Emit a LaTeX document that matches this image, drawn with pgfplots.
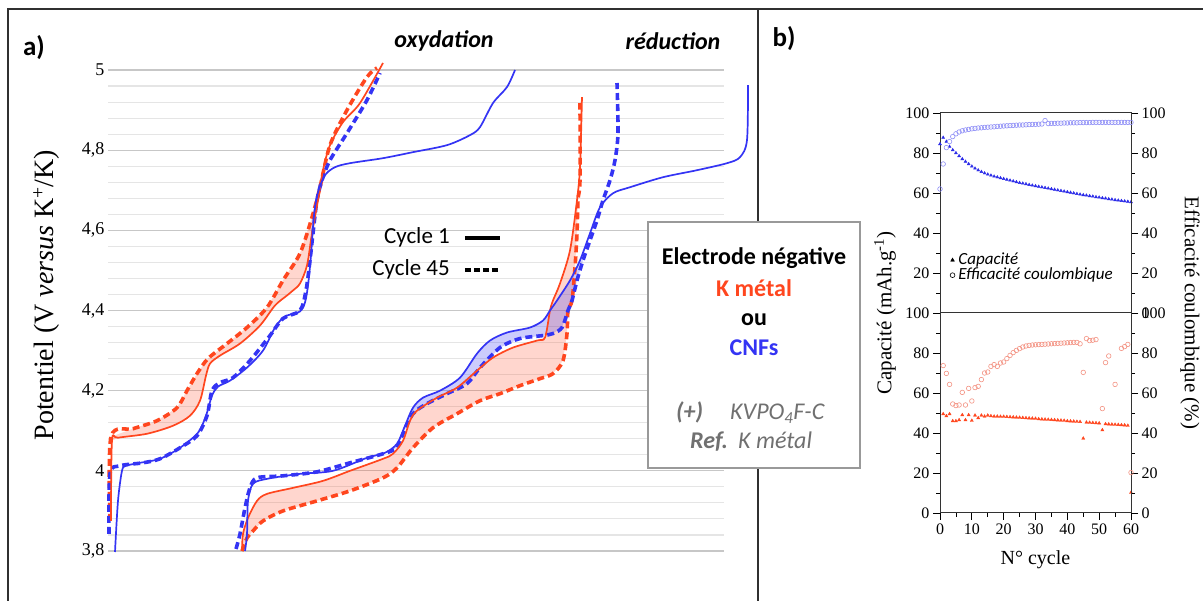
\documentclass[border=0pt]{standalone}
\usepackage{fontspec}
\setmainfont{Carlito}
\newfontfamily\tnr{Liberation Serif}
\usepackage{pgfplots}
\pgfplotsset{compat=1.18}

\definecolor{kred}{HTML}{FF461E}
\definecolor{cblue}{HTML}{3434F4}
\definecolor{triblue}{HTML}{2B2BE8}
\definecolor{circblue}{HTML}{8E8EF6}
\definecolor{circred}{HTML}{F39282}
\definecolor{boxgray}{HTML}{707070}
\definecolor{framegray}{HTML}{303030}

\tikzset{
  sol/.style={line width=1.7pt, smooth, tension=0.5},
  das/.style={line width=3.6pt, dash pattern=on 7pt off 4pt, smooth, tension=0.5},
}
\pgfplotsset{
  pb/.style={
    scale only axis, width=191pt, height=200pt,
    xmin=0, xmax=60, ymin=0, ymax=100,
    tick align=outside, major tick length=7pt, minor tick length=4pt,
    tick style={black, line width=0.8pt},
    axis line style={black!80, line width=1pt},
    tick label style={font=\tnr\fontsize{16}{16}\selectfont},
    /pgf/number format/assume math mode=true,
    ytick={0,20,...,100}, minor ytick={10,30,50,70,90},
    xtick={0,10,...,60}, minor xtick={5,15,...,55},
  },
}

\begin{document}
\begin{tikzpicture}
\useasboundingbox (0pt,0pt) rectangle (1203pt,601pt);
% cadre
\draw[framegray, line width=1.5pt] (8pt,0pt) -- (8pt,592pt) -- (1203pt,592pt);
\draw[framegray, line width=1.5pt] (758pt,0pt) -- (758pt,592pt);

% ---------- a) courbes de potentiel ----------
\begin{axis}[
  at={(108pt,50pt)}, anchor=south west,
  scale only axis, width=616pt, height=481pt,
  xmin=108, xmax=724, ymin=3.8, ymax=5,
  clip=false,
  axis line style={draw=none},
  xtick=\empty,
  ytick={3.8,4,4.2,4.4,4.6,4.8,5},
  minor y tick num=4,
  ymajorgrids, yminorgrids,
  major grid style={draw=black!22, line width=1.3pt},
  minor grid style={draw=black!10, line width=1.1pt},
  major tick length=0pt, minor tick length=0pt, tick style={draw=none},
  yticklabel style={font=\tnr\fontsize{18}{18}\selectfont,
    /pgf/number format/use comma, /pgf/number format/fixed,
    /pgf/number format/precision=1, /pgf/number format/assume math mode=true},
  ylabel={Potentiel (V \textit{versus} K\textsuperscript{+}/K)},
  every axis y label/.style={at={(axis description cs:-0.1,0.532)}, anchor=center,
    rotate=90, font=\tnr\fontsize{28}{28}\selectfont},
  legend style={draw=none, fill=none, inner sep=0pt,
    at={(axis description cs:0.6396,0.6767)}, anchor=north east,
    font=\fontsize{23}{23}\selectfont, row sep=7pt,
    nodes={inner sep=2pt, text height=16pt, text depth=5pt},
    /tikz/every odd column/.append style={column sep=11pt}},
  legend plot pos=right,
  legend cell align=right,
  legend image code/.code={\draw[#1] (0pt,0pt) -- (35pt,0pt);},
]
\addlegendimage{black, line width=4pt}
\addlegendentry{Cycle 1}
\addlegendimage{black, line width=4pt, dash pattern=on 6.5pt off 2.5pt}
\addlegendentry{Cycle 45}

% zones colorees
\addplot[draw=none, fill=kred, fill opacity=0.22] coordinates {
(111,3.875) (112,4.075) (118,4.0825) (147,4.0925) (173,4.1125) (190,4.1375) (200,4.175) (206,4.2375) (210,4.2675) (220,4.2875) (240,4.3175) (260,4.3625) (275,4.4125) (287,4.4375) (293,4.45) (300,4.4675) (307,4.5125) (312,4.5925) (318,4.675) (320,4.7075)
(312,4.6325) (300,4.5425) (283,4.475) (267,4.4075) (247,4.3575) (227,4.3175) (208,4.28) (197,4.2425) (187,4.2) (177,4.1575) (157,4.125) (133,4.105) (111,4.085) (110,3.875)};
\addplot[draw=none, fill=kred, fill opacity=0.22] coordinates {
(242,3.8) (243,3.8425) (248,3.8825) (257,3.925) (267,3.9425) (293,3.9575) (323,3.975) (350,4.0) (383,4.03) (393,4.0425) (403,4.075) (410,4.125) (417,4.15) (437,4.1825) (457,4.2075) (477,4.25) (493,4.2825) (513,4.3075) (537,4.325) (545,4.3325) (550,4.4) (553,4.425) (560,4.4675) (570,4.55) (577,4.675) (580,4.7575) (582,4.9325)
(580,4.9175) (580,4.725) (578,4.675) (577,4.5925) (575,4.5075) (572,4.425) (568,4.4) (567,4.3425) (563,4.275) (553,4.2425) (540,4.23) (520,4.2125) (500,4.1925) (480,4.175) (457,4.1425) (433,4.1075) (413,4.0575) (397,4.0075) (383,3.9825) (350,3.95) (317,3.925) (283,3.9) (263,3.875) (253,3.85) (247,3.8325)};
\addplot[draw=none, fill=cblue, fill opacity=0.25] coordinates {
(367,4.0325) (385,4.045) (397,4.0675) (405,4.1125) (413,4.1575) (423,4.1825) (440,4.2) (460,4.2325) (477,4.2925) (490,4.325) (507,4.345) (530,4.3575) (543,4.375) (550,4.4) (557,4.425) (570,4.475) (580,4.525)
(583,4.525) (577,4.475) (572,4.425) (568,4.4) (562,4.3575) (553,4.3425) (543,4.3375) (520,4.33) (500,4.3075) (480,4.2575) (467,4.2175) (447,4.1925) (427,4.1675) (413,4.1425) (403,4.0925) (397,4.0575) (383,4.0425)};

% oxydation
\addplot[das, kred] coordinates {(110,3.875) (111,4.085) (133,4.105) (157,4.125) (177,4.1575) (187,4.2) (197,4.2425) (208,4.28) (227,4.3175) (247,4.3575) (267,4.4075) (283,4.475) (300,4.5425) (312,4.6325) (320,4.7075) (330,4.8125) (347,4.9) (367,4.9825) (377,5.005)};
\addplot[das, cblue] coordinates {(109,3.8425) (110,3.9925) (120,4.0125) (143,4.02) (160,4.03) (180,4.0575) (197,4.0875) (207,4.1375) (212,4.2) (220,4.22) (233,4.2325) (250,4.275) (270,4.3375) (283,4.38) (300,4.4) (306,4.45) (310,4.525) (313,4.5925) (317,4.675) (322,4.725) (330,4.775) (347,4.8425) (367,4.925) (380,4.9925)};
\addplot[sol, kred] coordinates {(111,3.875) (112,4.075) (118,4.0825) (147,4.0925) (173,4.1125) (190,4.1375) (200,4.175) (206,4.2375) (210,4.2675) (220,4.2875) (240,4.3175) (260,4.3625) (275,4.4125) (287,4.4375) (293,4.45) (300,4.4675) (307,4.5125) (312,4.5925) (318,4.675) (323,4.75) (330,4.8125) (343,4.87) (360,4.9175) (383,5.0175)};
\addplot[sol, cblue] coordinates {(115,3.7975) (118,3.925) (122,4.0) (126,4.0125) (140,4.02) (160,4.03) (180,4.0575) (198,4.095) (206,4.1375) (212,4.1875) (218,4.21) (230,4.225) (247,4.2575) (263,4.3) (275,4.3575) (285,4.385) (300,4.3975) (305,4.42) (308,4.4625) (311,4.5375) (314,4.6375) (318,4.695) (325,4.7375) (335,4.7575) (350,4.7675) (383,4.78) (413,4.795) (447,4.8125) (470,4.8375) (480,4.8575) (493,4.9175) (507,4.9575) (515,5.0)};

% reduction
\addplot[das, kred] coordinates {(242,3.8) (247,3.8325) (253,3.85) (263,3.875) (283,3.9) (317,3.925) (350,3.95) (383,3.9825) (397,4.0075) (413,4.0575) (433,4.1075) (457,4.1425) (480,4.175) (500,4.1925) (520,4.2125) (540,4.23) (553,4.2425) (563,4.275) (567,4.3425) (568,4.4) (572,4.425) (575,4.5075) (577,4.5925) (578,4.675) (580,4.725) (580,4.9175)};
\addplot[das, cblue] coordinates {(236,3.805) (240,3.8425) (245,3.9075) (250,3.9575) (257,3.9825) (283,3.9875) (317,3.9975) (350,4.02) (383,4.0425) (397,4.0575) (403,4.0925) (413,4.1425) (427,4.1675) (447,4.1925) (467,4.2175) (480,4.2575) (500,4.3075) (520,4.33) (543,4.3375) (553,4.3425) (562,4.3575) (568,4.4) (572,4.425) (577,4.475) (583,4.525) (590,4.575) (597,4.625) (603,4.675) (610,4.725) (615,4.775) (618,4.8425) (617,4.9675)};
\addplot[sol, kred] coordinates {(242,3.8) (243,3.8425) (248,3.8825) (257,3.925) (267,3.9425) (293,3.9575) (323,3.975) (350,4.0) (383,4.03) (393,4.0425) (403,4.075) (410,4.125) (417,4.15) (437,4.1825) (457,4.2075) (477,4.25) (493,4.2825) (513,4.3075) (537,4.325) (545,4.3325) (550,4.4) (553,4.425) (560,4.4675) (570,4.55) (577,4.675) (580,4.7575) (582,4.9325)};
\addplot[sol, cblue] coordinates {(245,3.8) (247,3.8425) (248,3.925) (253,3.9675) (267,3.98) (300,3.9925) (333,4.0) (367,4.0325) (385,4.045) (397,4.0675) (405,4.1125) (413,4.1575) (423,4.1825) (440,4.2) (460,4.2325) (477,4.2925) (490,4.325) (507,4.345) (530,4.3575) (543,4.375) (550,4.4) (557,4.425) (570,4.475) (580,4.525) (590,4.5925) (600,4.6575) (613,4.6925) (630,4.7075) (663,4.7325) (697,4.75) (727,4.7675) (740,4.7825) (747,4.825) (748,4.9625)};
\end{axis}

\node[font=\bfseries\fontsize{27}{27}\selectfont] at (34pt,553pt) {a)};
\node[font=\bfseries\itshape\fontsize{24}{24}\selectfont] at (444pt,560pt) {oxydation};
\node[font=\bfseries\itshape\fontsize{24}{24}\selectfont] at (673pt,560pt) {réduction};
\node[font=\bfseries\fontsize{27}{27}\selectfont] at (784pt,562pt) {b)};

% encadre
\draw[black!40, line width=1.4pt, fill=white] (648pt,133pt) rectangle (860pt,379pt);
\node[font=\bfseries\fontsize{24}{24}\selectfont] at (754pt,343pt) {Electrode négative};
\node[font=\bfseries\fontsize{24}{24}\selectfont, text=kred] at (754pt,313pt) {K métal};
\node[font=\bfseries\fontsize{24}{24}\selectfont] at (754pt,281pt) {ou};
\node[font=\bfseries\fontsize{24}{24}\selectfont, text=cblue] at (754pt,253pt) {CNFs};
\node[anchor=base west, inner sep=0pt, text=boxgray, font=\bfseries\itshape\fontsize{24}{24}\selectfont] at (676pt,181pt) {(+)};
\node[anchor=base west, inner sep=0pt, text=boxgray, font=\itshape\fontsize{24}{24}\selectfont] at (730pt,181pt) {KVPO\textsubscript{4}F-C};
\node[anchor=base west, inner sep=0pt, text=boxgray, font=\bfseries\itshape\fontsize{24}{24}\selectfont] at (690pt,152pt) {Ref.};
\node[anchor=base west, inner sep=0pt, text=boxgray, font=\itshape\fontsize{24}{24}\selectfont] at (738pt,152pt) {K métal};

% ---------- b) cyclage ----------
% CNFs : capacite
\begin{axis}[pb, at={(940pt,288pt)}, anchor=south west,
  ytick={20,40,60,80,100}, ytick pos=left, xtick=\empty,
  legend style={draw=none, fill=none, inner sep=0pt,
    at={(axis description cs:0.052,0.3025)}, anchor=north west,
    font=\itshape\fontsize{17}{17}\selectfont, row sep=0pt,
    nodes={inner sep=0.5pt, text height=11pt, text depth=3pt},
    /tikz/every odd column/.append style={column sep=3pt}},
  legend cell align=left,
  legend image code/.code={\draw[#1] plot coordinates {(0pt,0pt)};},
]
\addlegendimage{mark=triangle*, black, mark size=2.2pt}
\addlegendentry{Capacité}
\addlegendimage{mark=o, black, mark size=2.4pt, line width=0.6pt}
\addlegendentry{Efficacité coulombique}
\addplot[only marks, mark=triangle*, triblue, mark size=1.7pt] coordinates {
(0,84.5)(1,87.7)(2,85.7)(3,83.2)(4,81.5)(5,80)(6,78.5)(7,77)(8,75.7)(9,74.5)(10,73.3)(11,72.3)(12,71.4)(13,70.6)(14,69.9)(15,69.3)(16,68.8)(17,68.3)(18,67.9)(19,67.5)(20,67.1)(21,66.7)(22,66.3)(23,65.9)(24,65.5)(25,65.1)(26,64.8)(27,64.5)(28,64.1)(29,63.8)(30,63.5)(31,63.2)(32,62.9)(33,62.6)(34,62.3)(35,62)(36,61.7)(37,61.4)(38,61.1)(39,60.8)(40,60.5)(41,60.2)(42,59.9)(43,59.6)(44,59.3)(45,59.0)(46,58.8)(47,58.5)(48,58.3)(49,58.0)(50,57.8)(51,57.5)(52,57.3)(53,57.0)(54,56.8)(55,56.5)(56,56.3)(57,56.1)(58,55.9)(59,55.7)(60,55.5)};
\end{axis}
% CNFs : efficacite
\begin{axis}[pb, at={(940pt,288pt)}, anchor=south west,
  axis x line=none, axis y line*=right,
]
\addplot[only marks, mark=o, circblue, mark size=2.3pt, line width=0.6pt] coordinates {
(0,62)(1,74.5)(2,82.7)(3,85.7)(4,88.2)(5,89.6)(6,90.5)(7,91.1)(8,91.5)(9,91.8)(10,92.1)(11,92.3)(12,92.5)(13,92.6)(14,92.8)(15,92.9)(16,93.0)(17,93.1)(18,93.3)(19,93.4)(20,93.5)(21,93.6)(22,93.7)(23,93.8)(24,93.9)(25,94.0)(26,94.0)(27,94.1)(28,94.2)(29,94.3)(30,94.3)(31,94.4)(32,94.5)(33,96.2)(34,94.7)(35,94.8)(36,94.8)(37,94.9)(38,94.9)(39,95.0)(40,95.0)(41,95.1)(42,95.1)(43,95.1)(44,95.2)(45,95.2)(46,95.2)(47,95.2)(48,95.3)(49,95.3)(50,95.3)(51,95.3)(52,95.3)(53,95.3)(54,95.3)(55,95.3)(56,95.3)(57,95.3)(58,95.3)(59,95.3)(60,95.3)};
\end{axis}

% K metal : capacite
\begin{axis}[pb, at={(940pt,88pt)}, anchor=south west,
  ytick pos=left, xtick pos=bottom,
  xlabel={N° cycle},
  every axis x label/.style={at={(axis description cs:0.5,-0.235)}, anchor=center,
    font=\tnr\fontsize{20}{20}\selectfont},
  ylabel={Capacité (mAh.g\textsuperscript{-1})},
  every axis y label/.style={at={(axis description cs:-0.288,1)}, anchor=center,
    rotate=90, font=\tnr\fontsize{21}{21}\selectfont},
]
\addplot[only marks, mark=triangle*, kred, mark size=1.8pt] coordinates {
(1,49.5)(2,48.5)(3,49.5)(4,46)(5,46)(6,46.5)(7,49)(8,46.5)(9,49)(10,46.2)(11,48.8)(12,47.5)(13,48.8)(14,48.3)(15,48.8)(16,48.5)(17,48.3)(18,48.3)(19,48.2)(20,48.2)(21,48.1)(22,48.0)(23,47.9)(24,47.8)(25,47.7)(26,47.6)(27,47.5)(28,47.4)(29,47.3)(30,47.2)(31,47.0)(32,46.9)(33,46.8)(34,46.7)(35,46.6)(36,46.5)(37,46.4)(38,46.3)(39,46.2)(40,46.0)(41,45.9)(42,45.8)(43,45.7)(44,45.6)(45,37.3)(46,45.3)(47,45.2)(48,45.1)(49,45.0)(50,44.9)(51,41.5)(52,44.5)(53,44.4)(54,44.3)(55,44.2)(56,44.1)(57,44.0)(58,43.9)(59,43.7)(60,10.2)};
\end{axis}
% K metal : efficacite
\begin{axis}[pb, at={(940pt,88pt)}, anchor=south west,
  axis x line=none, axis y line*=right,
  ylabel={Efficacité coulombique (\%)},
  every axis y label/.style={at={(axis description cs:1.309,1)}, anchor=center,
    rotate=-90, font=\tnr\fontsize{21}{21}\selectfont},
]
\addplot[only marks, mark=o, circred, mark size=2.3pt, line width=0.6pt] coordinates {
(1,73.7)(2,69.8)(3,64.3)(4,54.5)(5,53.7)(6,54)(7,60.3)(8,54)(9,62.3)(10,56)(11,62.7)(12,63.3)(13,66.7)(14,70)(15,70.5)(16,73.3)(17,74.2)(18,73.3)(19,75)(20,75.5)(21,77.2)(22,78.8)(23,80.2)(24,81.3)(25,82.2)(26,83)(27,83.5)(28,83.8)(29,84.0)(30,84.1)(31,84.2)(32,84.3)(33,84.4)(34,84.5)(35,84.6)(36,84.7)(37,84.8)(38,84.9)(39,85.0)(40,85.1)(41,85.2)(42,85.3)(43,85.3)(44,84.6)(45,70.3)(46,87.2)(47,86.2)(48,86.4)(49,86.7)(51,52.2)(52,75.2)(53,78.5)(55,64.3)(57,82.3)(58,83.2)(59,84.3)(60,20.2)};
\end{axis}
\end{tikzpicture}
\end{document}
